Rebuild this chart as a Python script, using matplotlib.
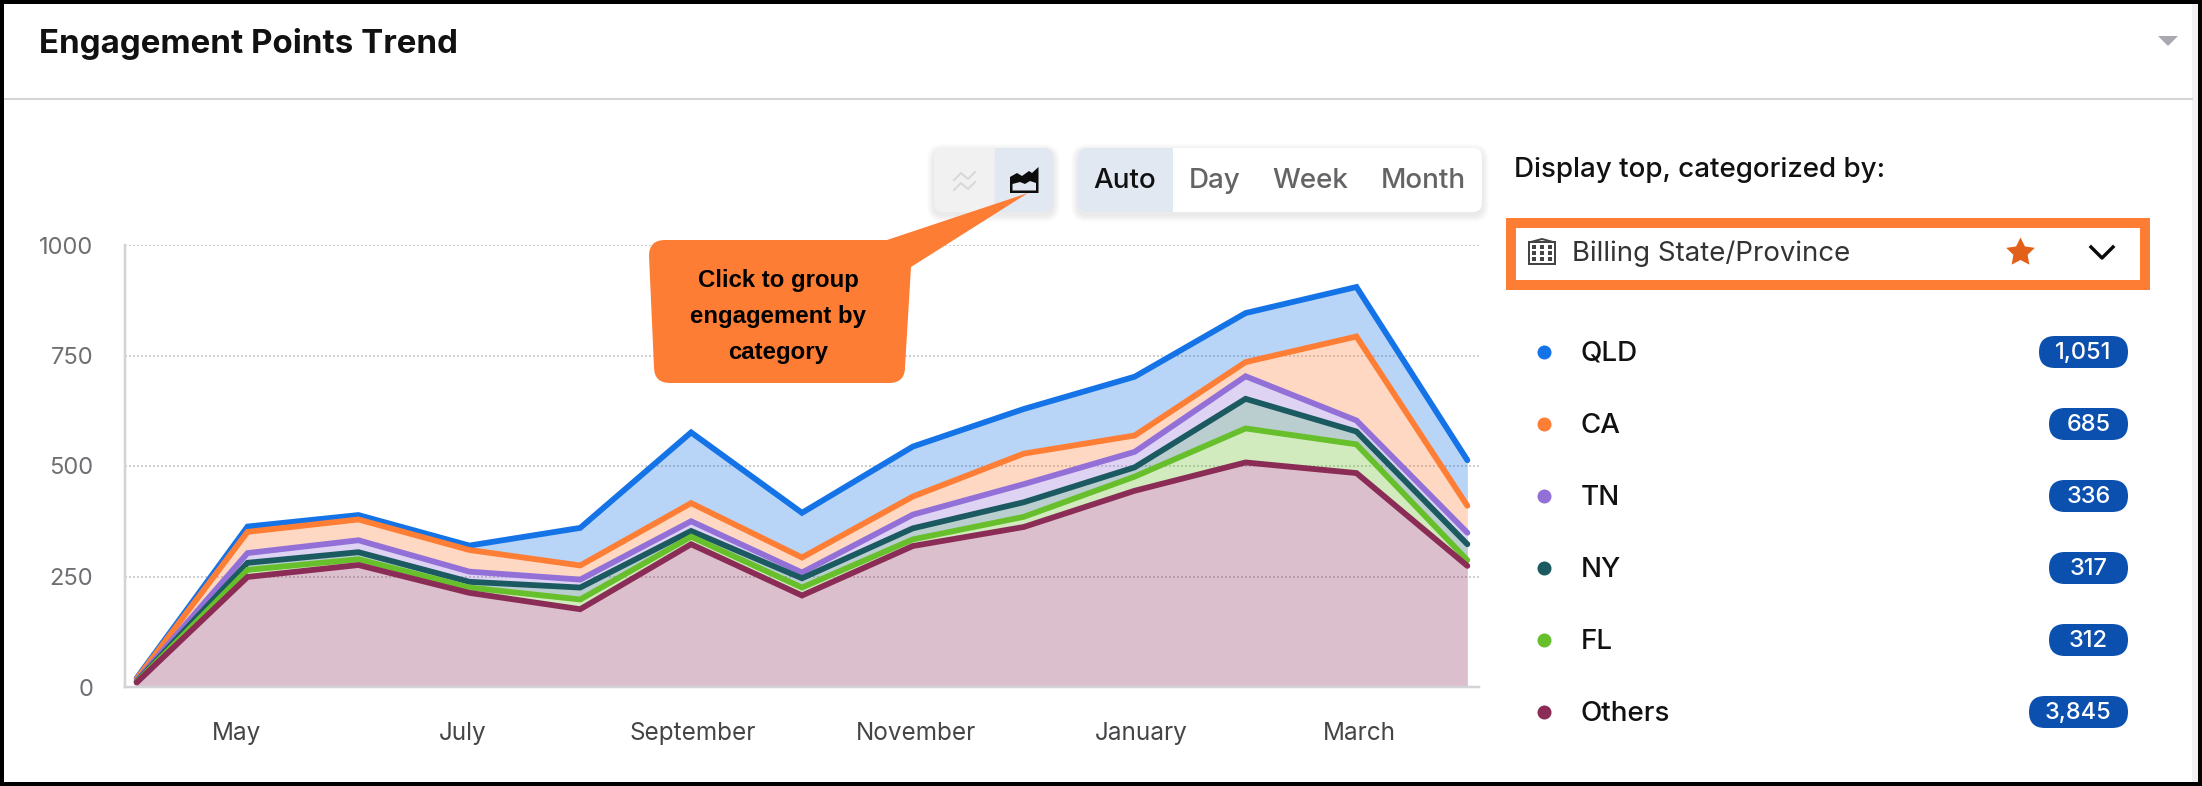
import matplotlib
matplotlib.use("Agg")
import matplotlib.pyplot as plt
import numpy as np
from matplotlib.patches import FancyBboxPatch, PathPatch, Polygon, Rectangle
from matplotlib.path import Path

WIDTH, HEIGHT = 2202, 786
DPI = 100
PX = 72 / DPI  # one pixel in points

plt.rcParams["font.family"] = ["Inter", "DejaVu Sans"]

# Monthly points per category, April to the following April
periods = ["Apr", "May", "Jun", "Jul", "Aug", "Sep", "Oct", "Nov", "Dec", "Jan", "Feb", "Mar", "Apr"]
others = [10, 249, 276, 213, 176, 323, 207, 319, 362, 444, 508, 484, 274]
fl = [1, 16, 13, 12, 22, 17, 18, 15, 23, 32, 77, 65, 13]
ny = [1, 16, 16, 13, 27, 13, 21, 25, 33, 21, 67, 29, 36]
tn = [2, 22, 27, 23, 18, 22, 13, 31, 41, 35, 51, 25, 26]
ca = [4, 48, 47, 49, 32, 41, 34, 41, 69, 37, 32, 190, 61]
qld = [2, 12, 10, 10, 85, 160, 101, 113, 101, 133, 111, 112, 103]

# Stacking order, bottom first
series_names = ["Others", "FL", "NY", "TN", "CA", "QLD"]
series_values = [others, fl, ny, tn, ca, qld]
series_colors = ["#8a2c56", "#68bf2c", "#1b5a61", "#9270d8", "#fe7e35", "#1473e6"]

y_ticks = [0, 250, 500, 750, 1000]
month_labels = ["May", "July", "September", "November", "January", "March"]
month_ticks = [0.90, 2.94, 5.01, 7.03, 9.06, 11.03]

legend_names = ["QLD", "CA", "TN", "NY", "FL", "Others"]
legend_totals = ["1,051", "685", "336", "317", "312", "3,845"]
legend_colors = ["#1473e6", "#fe7e35", "#9270d8", "#1b5a61", "#68bf2c", "#8a2c56"]
interval_labels = ["Auto", "Day", "Week", "Month"]

ORANGE = "#fe7d35"
SELECTED = "#e1e8f2"


def rounded_box(ax, x0, y0, x1, y1, radius, color, zorder=3):
    box = FancyBboxPatch((x0, y0), x1 - x0, y1 - y0,
                         boxstyle=f"round,pad=0,rounding_size={radius}",
                         fc=color, ec="none", zorder=zorder)
    ax.add_patch(box)
    return box


def soft_shadow(ax, x0, y0, x1, y1, radius):
    # Stacked translucent boxes stand in for a blurred drop shadow
    for grow in range(7, 0, -1):
        box = rounded_box(ax, x0 - grow, y0 - grow + 3, x1 + grow, y1 + grow + 3,
                          radius + grow, "#000000", zorder=2)
        box.set_alpha(0.012)


def draw_chart(ax):
    x = np.arange(len(periods))
    stacks = np.cumsum(np.array(series_values), axis=0)

    ax.set_xlim(-0.105, 12.105)
    ax.set_ylim(0, 1000)
    ax.patch.set_alpha(0)

    base = np.zeros(len(periods))
    for top, color in zip(stacks, series_colors):
        ax.fill_between(x, base, top, color=color, alpha=0.3, lw=0, zorder=2)
        base = top
    # Upper categories go first so the lower lines sit on top of them
    for top, color in zip(stacks[::-1], series_colors[::-1]):
        ax.plot(x, top, color=color, lw=5.8 * PX, solid_capstyle="round",
                solid_joinstyle="miter", zorder=3, clip_on=False)

    ax.set_yticks(y_ticks)
    ax.set_xticks(month_ticks, month_labels)
    ax.tick_params(axis="y", length=0, pad=23, labelsize=17, labelcolor="#6f6f73")
    ax.tick_params(axis="x", length=0, pad=25.5, labelsize=17.5, labelcolor="#454548")
    ax.grid(axis="y", color="#cfcfcf", lw=2 * PX, ls=(0, (1, 1)), zorder=1)
    ax.grid(axis="x", visible=False)
    for side in ("top", "right"):
        ax.spines[side].set_visible(False)
    for side in ("left", "bottom"):
        ax.spines[side].set_color("#d2d3d7")
        ax.spines[side].set_linewidth(2.5 * PX)


def draw_frame(ax):
    ax.add_patch(Rectangle((2192, 4), 6, 778, fc="#f1f1f3", ec="none"))
    ax.add_patch(Rectangle((2, 2), 2198, 782, fill=False, ec="black", lw=4 * PX, zorder=10))
    ax.plot([4, 2192], [99, 99], color="#d4d4d4", lw=2 * PX)
    ax.add_patch(Polygon([(2158, 36), (2178, 36), (2168, 46)], fc="#a9a9b1", ec="none"))
    ax.text(39, 44, "Engagement Points Trend", fontsize=23.8, fontweight="bold",
            color="#111111", va="center", ha="left")


def draw_callout(ax):
    r = 16
    verts = [
        (649 + r, 240), (887, 240), (1028, 193), (911, 267), (905, 383 - r),
        (905, 383), (905 - r, 383), (654 + r, 383), (654, 383), (654, 383 - r),
        (649, 240 + r), (649, 240), (649 + r, 240),
    ]
    codes = [Path.MOVETO, Path.LINETO, Path.LINETO, Path.LINETO, Path.LINETO,
             Path.CURVE3, Path.CURVE3, Path.LINETO, Path.CURVE3, Path.CURVE3,
             Path.LINETO, Path.CURVE3, Path.CURVE3]
    ax.add_patch(PathPatch(Path(verts, codes), fc=ORANGE, ec="none", zorder=6))
    for text, y in zip(["Click to group", "engagement by", "category"], [281, 317, 353]):
        ax.text(778, y, text, family=["Liberation Sans"], fontweight="bold", fontsize=17.3,
                color="black", ha="center", va="center", zorder=7)


def draw_toolbar(ax):
    # Chart type toggle
    soft_shadow(ax, 934, 148, 1053, 212, 9)
    rounded_box(ax, 934, 148, 1053, 212, 9, "#f1f1f1")
    rounded_box(ax, 994.5, 148, 1053, 212, 9, SELECTED, zorder=3)
    ax.add_patch(Rectangle((994.5, 148), 12, 64, fc=SELECTED, ec="none", zorder=3))
    for dy in (0, 10):
        ax.plot([954, 961, 968, 975], [180 + dy, 173 + dy, 179 + dy, 172 + dy],
                color="#d8d8d8", lw=2 * PX, zorder=4)
    ax.add_patch(Polygon([(1010, 177), (1017, 173), (1022, 176), (1029, 171), (1032, 173),
                          (1038.5, 167), (1038.5, 193), (1010, 193)],
                         fc="#0c0c0c", ec="none", zorder=4))
    ax.add_patch(Polygon([(1012.5, 184), (1020, 182), (1025, 184), (1030, 181), (1036, 183),
                          (1036, 190.5), (1012.5, 190.5)], fc=SELECTED, ec="none", zorder=5))

    # Interval selector
    soft_shadow(ax, 1078, 148, 1482, 212, 9)
    rounded_box(ax, 1078, 148, 1482, 212, 9, "white")
    rounded_box(ax, 1078, 148, 1173, 212, 9, SELECTED, zorder=3)
    ax.add_patch(Rectangle((1150, 148), 23, 64, fc=SELECTED, ec="none", zorder=3))
    for text, x in zip(interval_labels, [1125, 1215, 1310, 1423]):
        ax.text(x, 181, text, fontsize=20, fontweight="medium", ha="center", va="center",
                color="#111111" if text == "Auto" else "#646467", zorder=5)


def draw_side_panel(ax):
    ax.text(1514, 170, "Display top, categorized by:", fontsize=20, fontweight="medium",
            color="#111111", va="center", ha="left")

    ax.add_patch(Rectangle((1510.5, 223), 634, 62, fill=False, ec=ORANGE, lw=10 * PX, zorder=3))

    # Building icon
    ax.add_patch(Rectangle((1529, 242), 26, 22, fill=False, ec="#444444", lw=2 * PX))
    ax.plot([1531, 1542, 1553], [242, 239, 242], color="#444444", lw=2 * PX)
    for wx in (1534, 1542, 1550):
        for wy in (247, 253, 259):
            ax.add_patch(Rectangle((wx - 2, wy - 2), 4, 4, fc="#444444", ec="none"))

    ax.text(1572, 254, "Billing State/Province", fontsize=19.9, color="#333333",
            va="center", ha="left")
    star = Path.unit_regular_star(5, innerCircle=0.5)
    ax.plot([2019.6], [252], marker=star, ms=30 * PX, color="#e2601a", mec="none")
    ax.plot([2091, 2102, 2113], [247, 258, 247], color="#0a0a0a", lw=3.4 * PX)

    # Badge width follows the number it holds
    badge_widths = [89, 79, 79, 79, 79, 99]
    for i, (name, total, color) in enumerate(zip(legend_names, legend_totals, legend_colors)):
        y = 352 + 72 * i
        ax.plot([1543.5], [y], marker="o", ms=14 * PX, color=color, mec="none")
        ax.text(1581, y + 2, name, fontsize=20, fontweight="medium", color="#111111",
                va="center", ha="left")
        left = 2128 - badge_widths[i]
        rounded_box(ax, left, y - 16, 2128, y + 16, 16, "#0b50ae")
        ax.text((left + 2128) / 2, y + 1, total, fontsize=17, fontweight="medium", color="white",
                va="center", ha="center", zorder=5)


def main():
    fig = plt.figure(figsize=(WIDTH / DPI, HEIGHT / DPI), dpi=DPI, facecolor="white")

    chart = fig.add_axes([125 / WIDTH, 1 - 687 / HEIGHT, (1479 - 125) / WIDTH, 442 / HEIGHT], zorder=1)
    draw_chart(chart)

    # Page furniture is laid out in pixel coordinates on a transparent layer
    layer = fig.add_axes([0, 0, 1, 1], zorder=2)
    layer.set_xlim(0, WIDTH)
    layer.set_ylim(HEIGHT, 0)
    layer.axis("off")

    draw_frame(layer)
    draw_toolbar(layer)
    draw_callout(layer)
    draw_side_panel(layer)

    fig.savefig("out.png", dpi=DPI)
    plt.close(fig)


if __name__ == "__main__":
    main()
